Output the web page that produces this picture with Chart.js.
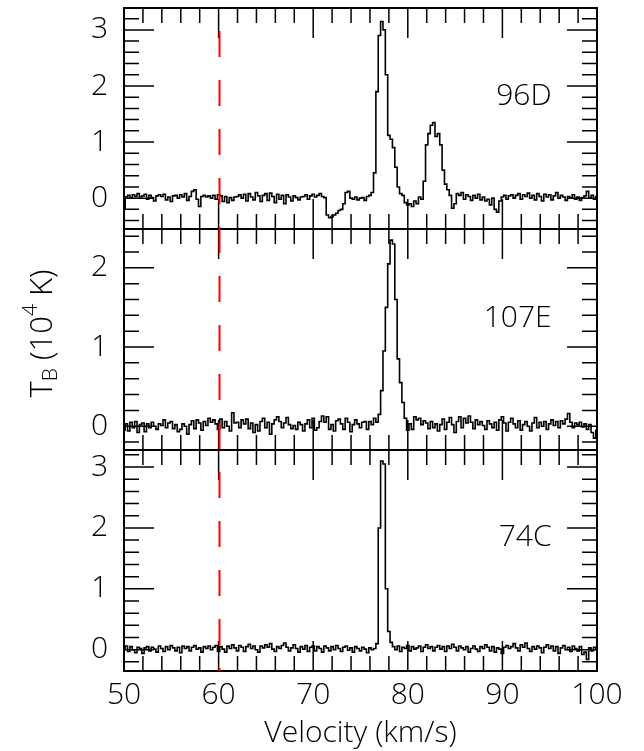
<!DOCTYPE html>
<html>
<head>
<meta charset="utf-8">
<script src="https://cdn.jsdelivr.net/npm/chart.js@4.4.1/dist/chart.umd.min.js"></script>
<style>
  body { margin: 0; background: #fff; }
  #spectra { display: block; }
</style>
</head>
<body>
<canvas id="spectra" width="644" height="751"></canvas>
<script>
// channel grid of the spectra (km/s)
const channelStart = 50;
const channelWidth = 0.25;
const referenceVelocity = 60;

// brightness temperature, 10^4 K, one value per channel (50 -> 100 km/s)
const tb96D = [
  -0.20, 0.02, 0.05, 0.00,   0.06, 0.03, 0.08, 0.02,   0.04, 0.07, -0.02, 0.05,
  0.01, -0.05, 0.04, 0.06,   0.03, 0.07, -0.03, 0.02,  -0.06, 0.04, 0.05, 0.00,
  0.06, 0.02, 0.08, -0.04,   0.03, 0.12, 0.15, -0.02,  -0.15, 0.03, 0.05, 0.02,
  0.04, 0.00, 0.05, -0.02,   0.06, 0.04, -0.06, 0.03,  -0.08, 0.01, -0.04, 0.02,
  0.03, 0.06, 0.00, 0.07,   -0.05, 0.08, 0.02, -0.03,  0.10, 0.04, -0.06, 0.05,
  0.08, -0.04, 0.09, 0.03,  -0.08, 0.07, -0.02, 0.05,  -0.10, 0.06, 0.02, -0.05,
  0.04, 0.01, -0.03, 0.02,   0.03, 0.06, -0.02, 0.04,   0.07, 0.02, 0.05, 0.08,
  0.03, 0.01, -0.30, -0.35, -0.33, -0.30, -0.27, -0.22, -0.20, -0.10, 0.10, 0.12,
  0.00, -0.02, 0.02, -0.03,  0.00, 0.01, -0.04, 0.03,   0.05, 0.10, 0.45, 1.90,
  2.90, 3.15, 3.00, 2.20,    1.12, 1.05, 0.90, 0.55,    0.20, 0.08, 0.05, -0.08,
  -0.12, -0.10, -0.15, -0.05, -0.10, 0.02, -0.02, 0.30, 0.95, 1.15, 1.30, 1.35,
  1.10, 1.15, 0.95, 0.50,    0.25, 0.15, 0.05, -0.18,  -0.10, 0.08, 0.05, 0.10,
  -0.02, 0.06, 0.03, -0.04,  0.05, 0.00, 0.07, -0.03,   0.02, -0.05, -0.02, -0.12,
  0.00, -0.20, -0.25, -0.05, 0.02, 0.05, -0.02, 0.04,   0.06, 0.00, 0.05, 0.08,
  -0.02, 0.06, 0.03, 0.09,   0.00, 0.05, -0.03, 0.08,   0.03, -0.05, 0.07, 0.02,
  0.06, -0.03, 0.04, 0.10,   0.00, 0.05, 0.02, -0.04,   0.03, 0.00, 0.06, -0.02,
  0.02, -0.04, 0.01, 0.04,   0.12, 0.00, 0.05, -0.02,   0.03
];
const tb107E = [
  -0.05, 0.03, -0.06, 0.05,  -0.02, 0.06, -0.08, 0.02,  0.04, -0.07, 0.03, -0.02,
  0.05, 0.00, -0.04, 0.03,   0.01, 0.08, -0.02, 0.04,   0.06, -0.03, 0.02, -0.07,
  -0.04, 0.03, 0.00, -0.10,  0.02, 0.07, -0.03, 0.08,   0.04, -0.05, 0.06, 0.01,
  0.10, 0.05, 0.08, 0.03,   -0.04, 0.09, -0.02, 0.06,   0.00, -0.06, 0.17, 0.04,
  0.05, -0.02, 0.08, 0.03,   0.09, -0.03, 0.04, -0.08,  0.02, -0.06, 0.06, 0.10,
  -0.02, 0.05, -0.10, 0.03,  0.08, 0.12, 0.06, -0.02,   0.04, 0.11, 0.02, -0.03,
  0.01, -0.04, 0.05, 0.02,  -0.06, 0.03, 0.08, -0.02,   0.10, -0.05, -0.02, 0.06,
  0.13, 0.05, 0.12, -0.04,   0.02, -0.06, 0.07, 0.09,   0.03, -0.04, 0.10, 0.05,
  -0.07, 0.02, 0.08, 0.03,  -0.02, 0.05, 0.06, -0.04,   0.06, 0.02, 0.10, 0.05,
  0.15, 0.45, 0.95, 1.50,    2.05, 2.35, 2.30, 1.60,    0.85, 0.55, 0.30, 0.10,
  -0.05, 0.03, -0.04, 0.12,  0.08, 0.10, 0.02, 0.07,    0.04, -0.03, 0.06, -0.02,
  0.03, -0.06, 0.02, 0.09,  -0.04, 0.05, 0.11, 0.02,   -0.08, 0.06, 0.12, -0.02,
  0.10, 0.04, 0.13, 0.05,   -0.03, 0.08, 0.02, 0.06,    0.01, -0.04, 0.07, 0.03,
  -0.02, 0.05, -0.05, 0.08,  0.12, 0.04, -0.06, 0.05,   0.10, 0.03, -0.02, 0.07,
  -0.05, 0.02, 0.06, 0.00,  -0.06, 0.04, 0.11, -0.02,   0.05, 0.00, 0.06, -0.04,
  0.03, 0.08, 0.01, 0.06,   -0.02, 0.07, 0.03, 0.09,    0.16, 0.05, -0.02, 0.04,
  0.02, 0.05, -0.01, 0.03,  -0.04, 0.02, -0.08, -0.15, -0.05
];
const tb74C = [
  0.02, 0.06, -0.03, 0.05,   0.00, -0.05, 0.04, 0.02,  -0.06, 0.03, 0.05, -0.02,
  0.04, 0.01, -0.04, 0.06,   0.02, -0.03, 0.05, 0.00,   0.07, 0.03, -0.02, 0.04,
  -0.05, 0.06, 0.02, 0.05,  -0.02, 0.04, 0.07, 0.01,    0.03, -0.04, 0.05, 0.02,
  0.06, 0.00, 0.04, 0.07,   -0.03, 0.05, 0.01, -0.04,   0.06, 0.02, 0.08, 0.03,
  -0.02, 0.07, 0.04, -0.03,  0.05, 0.09, 0.02, 0.06,    0.00, -0.04, 0.06, 0.03,
  0.08, 0.04, 0.10, 0.01,   -0.03, 0.05, 0.02, 0.07,    0.11, 0.04, -0.02, 0.03,
  0.08, 0.02, -0.04, 0.05,   0.01, 0.07, -0.03, 0.04,   0.06, -0.02, 0.05, 0.02,
  -0.04, 0.06, 0.03, -0.02,  0.05, 0.00, 0.07, 0.02,   -0.03, 0.04, 0.06, -0.01,
  0.03, -0.04, 0.05, 0.02,  -0.02, 0.04, 0.01, -0.05,   0.03, 0.00, 0.02, 0.10,
  2.00, 3.10, 3.05, 1.00,    0.30, 0.12, 0.05, 0.00,    0.06, -0.03, 0.04, 0.02,
  0.07, -0.02, 0.05, 0.01,   0.03, 0.06, -0.03, 0.04,   0.08, 0.02, 0.05, -0.02,
  0.04, 0.07, 0.01, 0.05,   -0.03, 0.06, 0.02, 0.09,    0.04, -0.02, 0.06, 0.03,
  0.00, 0.05, -0.04, 0.02,   0.06, 0.01, -0.03, 0.05,   0.02, 0.08, 0.04, -0.02,
  0.05, -0.04, 0.03, 0.01,  -0.06, 0.04, 0.07, 0.02,    0.05, 0.10, 0.03, -0.02,
  0.08, 0.04, 0.11, 0.02,   -0.03, 0.05, 0.01, 0.06,    0.03, -0.05, 0.04, 0.08,
  0.02, 0.06, -0.02, 0.05,  -0.06, 0.03, 0.07, 0.00,    0.04, -0.03, 0.06, 0.02,
  -0.02, 0.05, -0.08, -0.04, -0.16, 0.03, -0.02, 0.04,  0.01
];

const panelNames = ['96D', '107E', '74C'];
const panelSeries = [tb96D, tb107E, tb74C];

const velocity = tb96D.map((_, i) => channelStart + i * channelWidth);

const fontFamily = "'Open Sans', 'Liberation Sans', sans-serif";
Chart.defaults.font.family = fontFamily;
Chart.defaults.font.weight = '300';
Chart.defaults.color = '#000';

// panel layout: y range of each panel, where its name goes (data units)
const panels = {
  '96D':  { axis: 'y96D',  min: -0.55, max: 3.39, labelY: 1.82 },
  '107E': { axis: 'y107E', min: -0.30, max: 2.49, labelY: 1.36 },
  '74C':  { axis: 'y74C',  min: -0.35, max: 3.28, labelY: 1.85 }
};

function panelAxis(name) {
  const p = panels[name];
  return {
    type: 'linear',
    position: 'left',
    stack: 'spectra',
    stackWeight: 1,
    min: p.min,
    max: p.max,
    grid: { display: false, drawTicks: false },
    border: { display: false },
    ticks: {
      stepSize: 1,
      includeBounds: false,
      padding: 16,
      font: { size: 30 },
      callback: v => Number.isInteger(v) ? v : ''
    },
    afterFit: s => { s.width = 124; s.paddingTop = 0; s.paddingBottom = 0; }
  };
}

// inward ticks on all four sides of every panel, then the dashed reference line
const panelFrames = {
  id: 'panelFrames',
  afterDatasetsDraw(chart) {
    const ctx = chart.ctx;
    const xs = chart.scales.x;
    const area = chart.chartArea;
    ctx.save();

    ctx.strokeStyle = '#000';
    panelNames.forEach(name => {
      const ys = chart.scales[panels[name].axis];
      ctx.lineWidth = 2;
      ctx.strokeRect(xs.left, ys.top, xs.right - xs.left, ys.bottom - ys.top);

      ctx.lineWidth = 1.5;
      ctx.beginPath();
      for (let v = xs.min; v <= xs.max; v += 2) {
        const px = xs.getPixelForValue(v);
        const len = v % 10 === 0 ? 30 : 15;
        ctx.moveTo(px, ys.top); ctx.lineTo(px, ys.top + len);
        ctx.moveTo(px, ys.bottom); ctx.lineTo(px, ys.bottom - len);
      }
      for (let k = Math.ceil(ys.min * 5); k <= Math.floor(ys.max * 5); k++) {
        const py = ys.getPixelForValue(k / 5);
        const len = k % 5 === 0 ? 30 : 15;
        ctx.moveTo(xs.left, py); ctx.lineTo(xs.left + len, py);
        ctx.moveTo(xs.right, py); ctx.lineTo(xs.right - len, py);
      }
      ctx.stroke();

      ctx.font = '300 30px ' + fontFamily;
      ctx.fillStyle = '#000';
      ctx.textAlign = 'right';
      ctx.textBaseline = 'middle';
      ctx.fillText(name, xs.getPixelForValue(95.2), ys.getPixelForValue(panels[name].labelY));
    });

    // red dashed line, drawn as explicit dashes of 26 px every 49 px
    const xr = Math.round(xs.getPixelForValue(referenceVelocity)) + 0.5;
    ctx.strokeStyle = '#ff0000';
    ctx.lineWidth = 2;
    ctx.beginPath();
    for (let y = area.top + 23; y < area.bottom; y += 49) {
      ctx.moveTo(xr, y);
      ctx.lineTo(xr, Math.min(y + 26, area.bottom));
    }
    ctx.stroke();
    ctx.restore();
  }
};

// y title with subscript / superscript
const yTitle = {
  id: 'yTitle',
  afterDraw(chart) {
    const ctx = chart.ctx;
    const area = chart.chartArea;
    const parts = [
      { t: 'T', size: 31, dy: 0 },
      { t: 'B', size: 21, dy: 5 },
      { t: ' (10', size: 31, dy: 0 },
      { t: '4', size: 21, dy: -15 },
      { t: ' K)', size: 31, dy: 0 }
    ];
    ctx.save();
    let total = 0;
    parts.forEach(p => {
      ctx.font = '300 ' + p.size + 'px ' + fontFamily;
      p.w = ctx.measureText(p.t).width;
      total += p.w;
    });
    ctx.translate(52, (area.top + area.bottom) / 2 - 6);
    ctx.rotate(-Math.PI / 2);
    ctx.fillStyle = '#000';
    ctx.textBaseline = 'alphabetic';
    ctx.textAlign = 'left';
    let x = -total / 2;
    parts.forEach(p => {
      ctx.font = '300 ' + p.size + 'px ' + fontFamily;
      ctx.fillText(p.t, x, p.dy);
      x += p.w;
    });
    ctx.restore();
  }
};

const datasets = panelNames.map((name, i) => ({
  label: name,
  data: velocity.map((v, j) => ({ x: v, y: panelSeries[i][j] })),
  yAxisID: panels[name].axis,
  borderColor: '#000',
  borderWidth: 1.6,
  pointRadius: 0,
  stepped: 'middle',
  fill: false
}));

const config = {
  type: 'line',
  data: { datasets: datasets },
  options: {
    responsive: false,
    animation: false,
    layout: { padding: { top: 8, right: 47, left: 0, bottom: 0 } },
    plugins: { legend: { display: false }, tooltip: { enabled: false } },
    scales: {
      x: {
        type: 'linear',
        min: 50,
        max: 100,
        grid: { display: false, drawTicks: false },
        border: { display: false },
        ticks: { stepSize: 10, padding: 6, font: { size: 30 }, maxRotation: 0 },
        title: { display: true, text: 'Velocity (km/s)', font: { size: 30 }, padding: { top: 0, bottom: 0 } },
        afterFit: s => { s.height = 80; s.paddingLeft = 0; s.paddingRight = 0; }
      },
      y74C: panelAxis('74C'),
      y107E: panelAxis('107E'),
      y96D: panelAxis('96D')
    }
  },
  plugins: [panelFrames, yTitle]
};

const spectraChart = new Chart(document.getElementById('spectra'), config);
</script>
</body>
</html>
